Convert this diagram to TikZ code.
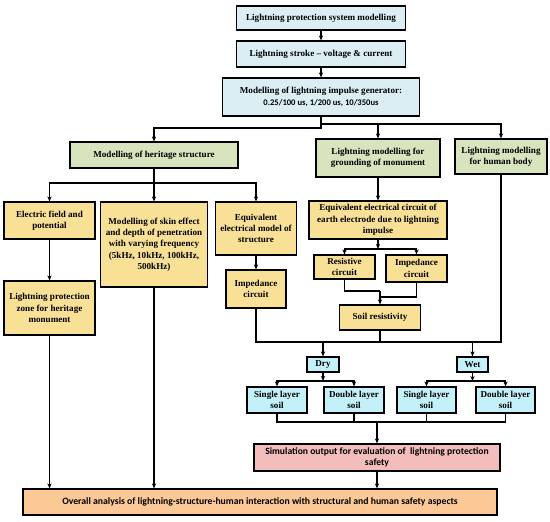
\documentclass[tikz,border=0pt]{standalone}
\usepackage{fontspec}
\setmainfont{Liberation Serif}
\newfontfamily\calib{Carlito}
\usepackage{tikz}
\usetikzlibrary{arrows.meta}
\tikzset{>={Stealth[length=5pt,width=4.2pt]}}
\definecolor{topblue}{HTML}{DAEEF3}
\definecolor{soilcyan}{HTML}{C4F1F9}
\definecolor{herbgreen}{HTML}{D7E4BD}
\definecolor{boxyellow}{HTML}{F9E097}
\definecolor{simpink}{HTML}{F2BDBB}
\definecolor{overorange}{HTML}{FBC896}
\tikzset{
  box/.style={draw, line width=1.2pt, inner sep=1pt, align=center,
    font=\bfseries\fontsize{9.1}{11.3}\selectfont},
  bluebox/.style={box, fill=topblue},
  cyanbox/.style={box, fill=soilcyan},
  greenbox/.style={box, fill=herbgreen},
  yellowbox/.style={box, fill=boxyellow},
  pinkbox/.style={box, fill=simpink, font=\calib\bfseries\fontsize{9.6}{11.5}\selectfont},
  orangebox/.style={box, fill=overorange, font=\calib\bfseries\fontsize{9.7}{11.5}\selectfont}
}

\begin{document}
\begin{tikzpicture}[x=1pt, y=-1pt, line width=1.2pt]
                \useasboundingbox (0,0) rectangle (550,522);

                % top chain
                \node[bluebox, minimum width=169, minimum height=24] (lps) at (321,18)
                  {Lightning protection system modelling};
                \node[bluebox, minimum width=169, minimum height=26] (stroke) at (321,54)
                  {Lightning stroke -- voltage \& current};
                \node[bluebox, minimum width=197, minimum height=38] (gen) at (321,97)
                  {Modelling of lightning impulse generator:\\
                   {\calib\fontsize{8.6}{11.3}\selectfont 0.25/100 us, 1/200 us, 10/350us}};

                % second row
                \node[greenbox, minimum width=168, minimum height=26] (heritage) at (154,155)
                  {Modelling of heritage structure};
                \node[greenbox, minimum width=124, minimum height=38] (grounding) at (378,158)
                  {Lightning modelling for\\grounding of monument};
                \node[greenbox, minimum width=92, minimum height=35] (human) at (501,156.5)
                  {Lightning modelling\\for human body};

                % heritage branch
                \node[yellowbox, minimum width=91, minimum height=37] (efield) at (49.5,220.5)
                  {Electric field and\\potential};
                \node[yellowbox, minimum width=107, minimum height=85] (skin) at (154,244.5)
                  {Modelling of skin effect\\and depth of penetration\\with varying frequency\\(5kHz, 10kHz, 100kHz,\\500kHz)};
                \node[yellowbox, minimum width=81, minimum height=53] (eqmodel) at (256,228.5)
                  {Equivalent\\electrical model of\\structure};
                \node[yellowbox, minimum width=91, minimum height=54] (lpz) at (49.5,308)
                  {Lightning protection\\zone for heritage\\monument};
                \node[yellowbox, minimum width=60, minimum height=38] (impl) at (256,289)
                  {Impedance\\circuit};

                % grounding branch
                \node[yellowbox, minimum width=138, minimum height=38] (eqcirc) at (378,220)
                  {Equivalent electrical circuit of\\earth electrode due to lightning\\impulse};
                \node[yellowbox, minimum width=61, minimum height=24] (resist) at (344.5,267)
                  {Resistive\\circuit};
                \node[yellowbox, minimum width=61, minimum height=27] (imped) at (416.5,268.5)
                  {Impedance\\circuit};
                \node[yellowbox, minimum width=81, minimum height=25] (soil) at (380,317.5)
                  {Soil resistivity};

                % soil conditions
                \node[cyanbox, minimum width=32, minimum height=15] (dry) at (323,364.5) {Dry};
                \node[cyanbox, minimum width=31, minimum height=15] (wet) at (472.5,364.5) {Wet};
                \node[cyanbox, minimum width=60, minimum height=26] (sdry) at (277,400)
                  {Single layer\\soil};
                \node[cyanbox, minimum width=60, minimum height=26] (ddry) at (354,400)
                  {Double layer\\soil};
                \node[cyanbox, minimum width=59, minimum height=26] (swet) at (426.5,400)
                  {Single layer\\soil};
                \node[cyanbox, minimum width=59, minimum height=26] (dwet) at (505.5,400)
                  {Double layer\\soil};

                % outputs
                \node[pinkbox, minimum width=246, minimum height=27] (sim) at (377,457.5)
                  {Simulation output for evaluation of \ lightning protection\\safety};
                \node[orangebox, minimum width=474, minimum height=26] (overall) at (260,502)
                  {Overall analysis of lightning-structure-human interaction with structural and human safety aspects};

                % bus points
                \coordinate (genL) at (321,128);
                \coordinate (genR) at (321,124);
                \coordinate (herbus) at (154,183);
                \coordinate (eqbus) at (378,249);
                \coordinate (rjoin) at (380,291);
                \coordinate (ijoin) at (380,297);
                \coordinate (soilbus) at (380,342);
                \coordinate (drybus) at (323,381);
                \coordinate (wetbus) at (472.5,381);
                \coordinate (outbus) at (377,422);

                \draw[->] (lps) -- (stroke);
                \draw[->] (stroke) -- (gen);
                \draw[->] (gen) -- (genL) -| (heritage.north);
                \draw[->] (genR) -| (grounding.north);
                \draw[->] (genR) -| (human.north);

                \draw[->] (heritage) -- (skin);
                \draw[->] (herbus) -| (efield.north);
                \draw[->] (herbus) -| (eqmodel.north);
                \draw[->] (efield) -- (lpz);
                \draw[->] (eqmodel) -- (impl);
                \draw[->] (lpz) -- (lpz |- overall.north);
                \draw[->] (skin) -- (skin |- overall.north);

                \draw[->] (grounding) -- (eqcirc);
                \draw[->] (eqcirc) -- (eqbus);
                \draw[->] (eqbus) -| (resist.north);
                \draw[->] (eqbus) -| (imped.north);
                \draw (resist.south) |- (rjoin);
                \draw (imped.south) |- (ijoin);
                \draw[->] (rjoin) -- (soil);

                \draw (impl.south) |- (soilbus) -| (human.south);
                \draw (soil) -- (soilbus);
                \draw[->] (soilbus) -| (dry.north);
                \draw[->] (soilbus) -| (wet.north);

                \draw[->] (dry) -- (drybus);
                \draw[->] (drybus) -| (sdry.north);
                \draw[->] (drybus) -| (ddry.north);
                \draw[->] (wet) -- (wetbus);
                \draw[->] (wetbus) -| (swet.north);
                \draw[->] (wetbus) -| (dwet.north);

                \draw (sdry.south) |- (outbus);
                \draw (dwet.south) |- (outbus);
                \draw (ddry) -- (ddry |- outbus);
                \draw (swet) -- (swet |- outbus);
                \draw[->] (outbus) -- (sim);
                \draw[->] (sim) -- (sim |- overall.north);
\end{tikzpicture}
\end{document}
